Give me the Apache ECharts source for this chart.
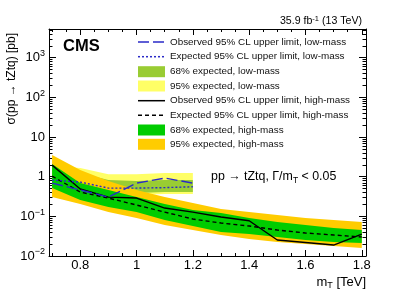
<!DOCTYPE html>
<html><head><meta charset="utf-8">
<script src="https://cdn.jsdelivr.net/npm/echarts@6/dist/echarts.min.js"></script>
<style>html,body{margin:0;padding:0;background:#fff}#c{width:407px;height:292px}</style>
</head><body><div id="c"></div>
<script>
// ---- data ----
const massHigh = [0.7, 0.8, 0.9, 1.0, 1.1, 1.2, 1.3, 1.4, 1.5, 1.6, 1.7, 1.8];
const obsHigh  = [1.96, 0.488, 0.306, 0.289, 0.162, 0.128, 0.096, 0.0775, 0.0253, 0.0219, 0.0189, 0.0358];
const expHigh  = [1.035, 0.409, 0.289, 0.193, 0.128, 0.0855, 0.0678, 0.057, 0.0452, 0.038, 0.0338, 0.0301];
const g68HighUp = [2.08, 0.69, 0.46, 0.306, 0.204, 0.144, 0.121, 0.0906, 0.0718, 0.0604, 0.0507, 0.0452];
const g68HighLo = [0.516, 0.258, 0.172, 0.128, 0.0807, 0.057, 0.0403, 0.0358, 0.0301, 0.0253, 0.0225, 0.0212];
const g95HighUp = [3.5, 1.47, 0.775, 0.46, 0.306, 0.216, 0.153, 0.128, 0.108, 0.0906, 0.0807, 0.0718];
const g95HighLo = [0.306, 0.204, 0.128, 0.0906, 0.0604, 0.0452, 0.0338, 0.0268, 0.0225, 0.02, 0.0179, 0.0159];

const massLow = [0.7, 0.8, 0.9, 1.0, 1.1, 1.2];
const obsLow  = [0.69, 0.46, 0.306, 0.69, 0.922, 0.69];
const expLow  = [0.821, 0.731, 0.516, 0.516, 0.53, 0.557];
const g68LowUp = [1.23, 1.23, 0.821, 0.775, 0.821, 0.821];
const g68LowLo = [0.46, 0.434, 0.409, 0.386, 0.409, 0.409];
const g95LowUp = [1.85, 1.65, 1.16, 1.16, 1.23, 1.23];
const g95LowLo = [0.325, 0.325, 0.325, 0.344, 0.365, 0.365];

const xMajor = [0.8, 1.0, 1.2, 1.4, 1.6, 1.8];
const xMinor = [0.7, 0.75, 0.85, 0.9, 0.95, 1.05, 1.1, 1.15, 1.25, 1.3, 1.35, 1.45, 1.5, 1.55, 1.65, 1.7, 1.75];
const xLabels = ['0.8', '1', '1.2', '1.4', '1.6', '1.8'];
const yMajor = [0.01, 0.1, 1, 10, 100, 1000];
const yMinor = [];
[0.01, 0.1, 1, 10, 100, 1000].forEach(d => { for (let k = 2; k <= 9; k++) { const v = +(k * d).toPrecision(3); if (v < 5300) yMinor.push(v); } });

// ---- style ----
const FONT = '"Liberation Sans", Arial, Helvetica, sans-serif';
const C = {
  yellowLow: '#FFFF66', oliveLow: '#99CC33', greenHigh: '#00CC00', orangeHigh: '#FFCC00',
  blue: '#2a2ac8', black: '#000000'
};
const X0 = 0.689, X1 = 1.815, Y0 = 0.01, Y1 = 5300;

function band(name, xs, lo, hi, color, z) {
  return {
    type: 'custom', name: name, z: z, silent: true,
    data: xs.map((x, i) => [x, lo[i], hi[i]]),
    encode: { x: 0, y: [1, 2] },
    renderItem: function (params, api) {
      if (params.dataIndex !== 0) return;
      const pts = [];
      for (let i = 0; i < xs.length; i++) pts.push(api.coord([xs[i], hi[i]]));
      for (let i = xs.length - 1; i >= 0; i--) pts.push(api.coord([xs[i], lo[i]]));
      return { type: 'polygon', shape: { points: pts }, style: { fill: color } };
    }
  };
}
function line(name, xs, ys, color, dash, z) {
  return {
    type: 'line', name: name, z: z, silent: true, showSymbol: false, symbol: 'none',
    data: xs.map((x, i) => [x, ys[i]]),
    lineStyle: { color: color, width: 1.4, type: dash },
    animation: false
  };
}

function xAxisDef(pos, major, showLine) {
  return {
    type: 'value', min: X0, max: X1, position: pos,
    axisLine: { show: showLine, onZero: false, lineStyle: { color: '#000', width: 1 } },
    axisTick: { show: true, inside: true, length: major ? 6 : 3, customValues: major ? xMajor : xMinor, lineStyle: { color: '#000', width: 1 } },
    axisLabel: (major && pos === 'bottom') ? {
      show: true, customValues: xMajor, color: '#000', fontSize: 13, fontFamily: FONT, margin: 3,
      formatter: v => { const i = xMajor.findIndex(t => Math.abs(t - v) < 1e-6); return i >= 0 ? xLabels[i] : ''; }
    } : { show: false },
    splitLine: { show: false }
  };
}
function yAxisDef(pos, major, showLine) {
  return {
    type: 'log', logBase: 10, min: Y0, max: Y1, position: pos,
    axisLine: { show: showLine, onZero: false, lineStyle: { color: '#000', width: 1 } },
    axisTick: { show: true, inside: true, length: major ? 7 : 3.5, customValues: major ? yMajor : yMinor, lineStyle: { color: '#000', width: 1 } },
    axisLabel: (major && pos === 'left') ? {
      show: true, customValues: yMajor, color: '#000', fontSize: 13, fontFamily: FONT, margin: 4,
      formatter: v => {
        const e = Math.round(Math.log10(v));
        if (Math.abs(v - Math.pow(10, e)) > 1e-6 * Math.pow(10, e)) return '';
        if (e === 0) return '1';
        if (e === 1) return '10';
        return '10{s|' + (e < 0 ? '\u2212' : '') + Math.abs(e) + '}';
      },
      rich: { s: { fontSize: 9, fontFamily: FONT, color: '#000', padding: [0, 0, 8, 0] } }
    } : { show: false },
    splitLine: { show: false }
  };
}

// legend (graphic)
const legendRows = [42, 56.7, 71.7, 86, 100.7, 115.3, 130, 144.3];
const legendText = [
  'Observed 95% CL upper limit, low-mass',
  'Expected 95% CL upper limit, low-mass',
  '68% expected, low-mass',
  '95% expected, low-mass',
  'Observed 95% CL upper limit, high-mass',
  'Expected 95% CL upper limit, high-mass',
  '68% expected, high-mass',
  '95% expected, high-mass'
];
const legendSym = [
  { kind: 'line', color: C.blue, dash: [11, 4] },
  { kind: 'line', color: C.blue, dash: [2, 2] },
  { kind: 'box', color: C.oliveLow },
  { kind: 'box', color: C.yellowLow },
  { kind: 'line', color: C.black, dash: null },
  { kind: 'line', color: C.black, dash: [4, 3] },
  { kind: 'box', color: C.greenHigh },
  { kind: 'box', color: C.orangeHigh }
];
const graphics = [];
legendRows.forEach((y, i) => {
  const s = legendSym[i];
  if (s.kind === 'box') {
    graphics.push({ type: 'rect', shape: { x: 138, y: y - 5.5, width: 27, height: 11 }, style: { fill: s.color } });
  } else {
    graphics.push({ type: 'line', shape: { x1: 138, y1: y, x2: 165, y2: y }, style: { stroke: s.color, lineWidth: 1.5, lineDash: s.dash } });
  }
  graphics.push({ type: 'text', x: 170, y: y, style: { text: legendText[i], font: '9.9px ' + FONT, fill: '#111', textAlign: 'left', textVerticalAlign: 'middle', align: 'left', verticalAlign: 'middle' } });
});
graphics.push({ type: 'text', x: 63, y: 46, style: { text: 'CMS', font: 'bold 16.5px ' + FONT, fill: '#000', textAlign: 'left', textVerticalAlign: 'middle', align: 'left', verticalAlign: 'middle' } });
graphics.push({ type: 'text', x: 362, y: 21.5, style: {
  text: '35.9 fb{s|-1} (13 TeV)', font: '10.6px ' + FONT, fill: '#000', textAlign: 'right', textVerticalAlign: 'middle', align: 'right', verticalAlign: 'middle',
  rich: { s: { fontSize: 7.5, fontFamily: FONT, fill: '#000', padding: [0, 0, 6, 0] } } } });
graphics.push({ type: 'text', x: 211, y: 177, style: {
  text: 'pp \u2192 tZtq, \u0393/m{b|T} < 0.05', font: '12.4px ' + FONT, fill: '#000', textAlign: 'left', textVerticalAlign: 'middle', align: 'left', verticalAlign: 'middle',
  rich: { b: { fontSize: 8.5, fontFamily: FONT, fill: '#000', padding: [7, 0, 0, 0] } } } });
graphics.push({ type: 'text', x: 366, y: 282, style: {
  text: 'm{b|T} [TeV]', font: '13px ' + FONT, fill: '#000', textAlign: 'right', textVerticalAlign: 'middle', align: 'right', verticalAlign: 'middle',
  rich: { b: { fontSize: 9, fontFamily: FONT, fill: '#000', padding: [7, 0, 0, 0] } } } });
graphics.push({ type: 'text', x: 12, y: 33, rotation: Math.PI / 2, style: {
  text: '\u03c3(pp \u2192 tZtq) [pb]', font: '12px ' + FONT, fill: '#000', textAlign: 'right', textVerticalAlign: 'middle', align: 'right', verticalAlign: 'middle' } });

const chart = echarts.init(document.getElementById('c'), null, { renderer: 'canvas' });
chart.setOption({
  animation: false,
  backgroundColor: '#fff',
  grid: { left: 49, top: 29, width: 317, height: 227, containLabel: false },
  xAxis: [xAxisDef('bottom', true, true), xAxisDef('bottom', false, false), xAxisDef('top', true, true), xAxisDef('top', false, false)],
  yAxis: [yAxisDef('left', true, true), yAxisDef('left', false, false), yAxisDef('right', true, true), yAxisDef('right', false, false)],
  series: [
    band('95% expected, low-mass', massLow, g95LowLo, g95LowUp, C.yellowLow, 1),
    band('68% expected, low-mass', massLow, g68LowLo, g68LowUp, C.oliveLow, 2),
    band('95% expected, high-mass', massHigh, g95HighLo, g95HighUp, C.orangeHigh, 3),
    band('68% expected, high-mass', massHigh, g68HighLo, g68HighUp, C.greenHigh, 4),
    line('Expected 95% CL upper limit, high-mass', massHigh, expHigh, C.black, [4, 3], 5),
    line('Observed 95% CL upper limit, high-mass', massHigh, obsHigh, C.black, 'solid', 6),
    line('Expected 95% CL upper limit, low-mass', massLow, expLow, C.blue, [2, 2], 7),
    line('Observed 95% CL upper limit, low-mass', massLow, obsLow, C.blue, [11, 4], 8)
  ],
  graphic: graphics
});
</script>
</body></html>
